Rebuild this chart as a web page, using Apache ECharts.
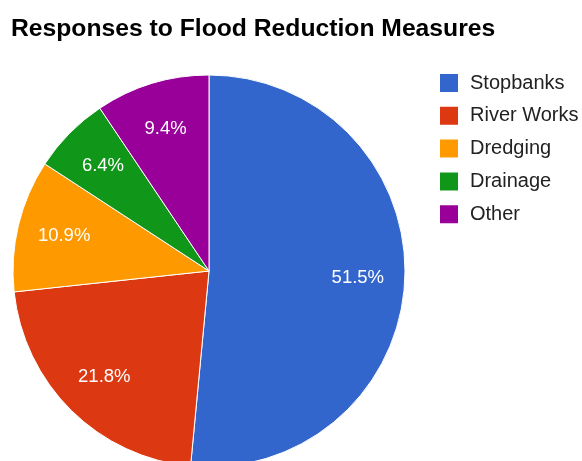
<!DOCTYPE html>
<html>
<head>
<meta charset="utf-8">
<script src="https://cdn.jsdelivr.net/npm/echarts@6/dist/echarts.min.js"></script>
<style>html,body{margin:0;padding:0;background:#fff;}#c{width:582px;height:461px;}</style>
</head>
<body>
<div id="c"></div>
<script>
const categories = ['Stopbanks', 'River Works', 'Dredging', 'Drainage', 'Other'];
const values = [51.5, 21.8, 10.9, 6.4, 9.4];
const colors = ['#3366cc', '#dc3912', '#ff9900', '#109618', '#990099'];

const pieData = categories.map((name, i) => ({ name: name, value: values[i] }));
const FONT = '"Liberation Sans", Arial, sans-serif';

const chart = echarts.init(document.getElementById('c'));
chart.setOption({
  animation: false,
  color: colors,
  title: {
    text: 'Responses to Flood Reduction Measures',
    left: 11,
    top: 17,
    padding: 0,
    textStyle: { fontFamily: FONT, fontWeight: 'bold', fontSize: 24.7, color: '#000' }
  },
  legend: {
    orient: 'vertical',
    left: 438,
    top: 72,
    padding: 0,
    itemWidth: 20,
    itemHeight: 20,
    itemGap: 10.8,
    icon: 'rect',
    data: categories,
    textStyle: { fontFamily: FONT, fontSize: 20, color: '#222', padding: [0, 0, 0, 6] }
  },
  series: [
    {
      type: 'pie',
      center: [209, 271],
      radius: [0, 196],
      startAngle: 90,
      clockwise: true,
      data: pieData,
      label: { show: false },
      labelLine: { show: false },
      itemStyle: { borderColor: '#fff', borderWidth: 1 },
      emphasis: { disabled: true }
    },
    {
      type: 'pie',
      center: [209, 271],
      radius: [100, 192],
      startAngle: 90,
      clockwise: true,
      silent: true,
      percentPrecision: 1,
      data: pieData,
      legendHoverLink: false,
      itemStyle: { color: 'rgba(0,0,0,0)', borderWidth: 0 },
      label: {
        show: true,
        position: 'inside',
        formatter: '{d}%',
        fontFamily: FONT,
        fontSize: 18.5,
        color: '#fff'
      },
      labelLine: { show: false },
      emphasis: { disabled: true }
    }
  ]
});
</script>
</body>
</html>
